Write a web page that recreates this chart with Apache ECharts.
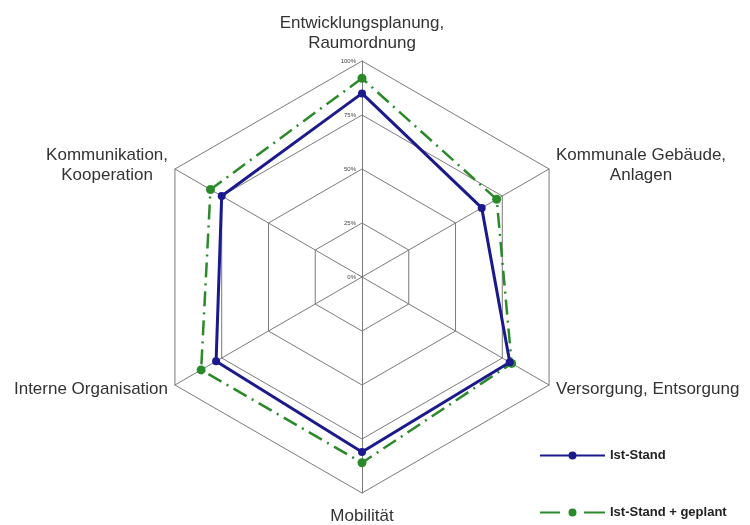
<!DOCTYPE html>
<html>
<head>
<meta charset="utf-8">
<script src="https://cdn.jsdelivr.net/npm/echarts@6/dist/echarts.min.js"></script>
<style>
  html, body { margin: 0; padding: 0; background: #fff; }
  #chart { width: 750px; height: 525px; }
</style>
</head>
<body>
<div id="chart"></div>
<script>
// categories, counter-clockwise from the top (ECharts radar order)
const categories = [
  'Entwicklungsplanung,\nRaumordnung',
  'Kommunikation,\nKooperation',
  'Interne Organisation',
  'Mobilität',
  'Versorgung, Entsorgung',
  'Kommunale Gebäude,\nAnlagen'
];
const istStand = [85, 75, 78, 81, 79, 64];
const istStandGeplant = [92, 81, 86, 86, 80, 72];
const tickLabels = ['0%', '25%', '50%', '75%', '100%'];
const seriesNames = ['Ist-Stand', 'Ist-Stand + geplant'];

const chart = echarts.init(document.getElementById('chart'));

const blueIcon = 'path://M0,3 L65,3 L65,5 L0,5 Z M28.5,4 A4,4 0 1,1 36.5,4 A4,4 0 1,1 28.5,4 Z';
const greenIcon = 'path://M0,3 L20,3 L20,5 L0,5 Z M28.5,4 A4,4 0 1,1 36.5,4 A4,4 0 1,1 28.5,4 Z M44,3 L65,3 L65,5 L44,5 Z';

const nameFont = {
  color: '#333',
  fontFamily: 'Liberation Sans, Arial, sans-serif',
  fontSize: 17,
  lineHeight: 20
};
const legendText = {
  fontFamily: 'Liberation Sans Narrow, Arial Narrow, Liberation Sans, sans-serif',
  fontWeight: 'bold',
  fontSize: 13,
  color: '#222'
};

chart.setOption({
  backgroundColor: '#fff',
  animation: false,
  legend: [
    {
      left: 535,
      top: 444,
      itemWidth: 65,
      itemHeight: 8,
      data: [{ name: seriesNames[0], icon: blueIcon }],
      textStyle: legendText
    },
    {
      left: 535,
      top: 501,
      itemWidth: 65,
      itemHeight: 8,
      data: [{ name: seriesNames[1], icon: greenIcon }],
      textStyle: legendText
    }
  ],
  radar: {
    center: [362, 277],
    radius: 216,
    shape: 'polygon',
    splitNumber: 4,
    nameGap: 8,
    indicator: categories.map((name, i) => ({
      name: name,
      min: 0,
      max: 100,
      axisLabel: { show: i === 0 }
    })),
    axisName: Object.assign({
      formatter: (name) => name.split('\n')
        .map((l) => (name === 'Mobilität' ? '{b|' : '{c|') + l + '}').join('\n'),
      rich: {
        c: Object.assign({ align: 'center' }, nameFont),
        b: Object.assign({ align: 'center', padding: [10, 0, 0, 0] }, nameFont)
      }
    }, nameFont),
    axisLine: { lineStyle: { color: '#7a7a7a', width: 1 } },
    splitLine: { lineStyle: { color: '#7a7a7a', width: 1 } },
    splitArea: { show: false },
    axisTick: { show: false },
    axisLabel: {
      show: true,
      fontSize: 6,
      color: '#444',
      margin: 6,
      formatter: (v) => tickLabels[Math.round(v / 25)]
    }
  },
  series: [
    {
      name: seriesNames[0],
      type: 'radar',
      z: 3,
      symbol: 'circle',
      symbolSize: 8,
      lineStyle: { color: '#1a1a8c', width: 3 },
      itemStyle: { color: '#1a1a8c' },
      data: [{ value: istStand, name: seriesNames[0] }]
    },
    {
      name: seriesNames[1],
      type: 'radar',
      z: 2,
      symbol: 'circle',
      symbolSize: 9,
      lineStyle: { color: '#2a8a2a', width: 2.5, type: [15, 6, 2, 6] },
      itemStyle: { color: '#2a8a2a' },
      data: [{ value: istStandGeplant, name: seriesNames[1] }]
    }
  ]
});
</script>
</body>
</html>
